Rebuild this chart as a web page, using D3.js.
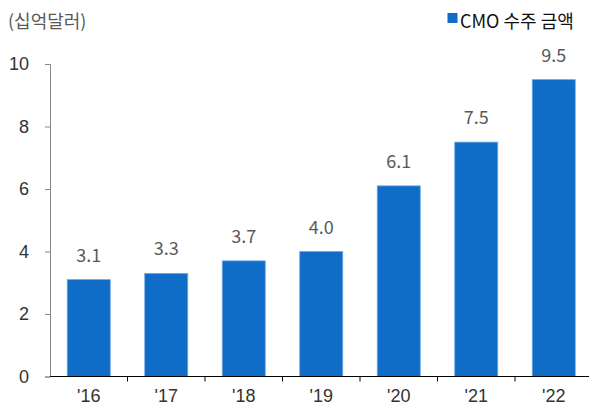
<!DOCTYPE html>
<html><head><meta charset="utf-8">
<script src="https://cdn.jsdelivr.net/npm/d3@7"></script>
<style>body{margin:0;background:#fff;} svg{display:block;font-family:"Noto Sans CJK KR","Noto Sans",sans-serif;}</style>
</head><body>
<svg id="c" width="590" height="408"></svg>
<script>
const categories = ["'16","'17","'18","'19","'20","'21","'22"];
const values = [3.1,3.3,3.7,4.0,6.1,7.5,9.5];
const yTicks = [0,2,4,6,8,10];
const unitLabel = "(십억달러)";
const seriesName = "CMO 수주 금액";

const svg = d3.select("#c");
const x = d3.scaleBand().domain(categories).range([50,592.5]).paddingInner(0.445).paddingOuter(0.2225);
const y = d3.scaleLinear().domain([0,10]).range([376.5,64]);

// y axis
const ya = svg.append("g").attr("transform","translate(50,0)")
  .call(d3.axisLeft(y).tickValues(yTicks).tickSize(5).tickPadding(16));
ya.select(".domain").attr("stroke","#888");
ya.selectAll(".tick line").attr("stroke","#888");
ya.selectAll("text").attr("font-size",18).attr("fill","#333").attr("font-family","inherit");

// bars
svg.selectAll(".bar").data(values).enter().append("rect")
  .attr("x",(d,i)=>x(categories[i]))
  .attr("width",x.bandwidth())
  .attr("y",d=>y(d))
  .attr("height",d=>y(0)-y(d))
  .attr("fill","#0F6DC8")
  .attr("stroke","#6FA8E0").attr("stroke-width",0.8);

// value labels
svg.selectAll(".vl").data(values).enter().append("text")
  .attr("x",(d,i)=>x(categories[i])+x.bandwidth()/2)
  .attr("y",d=>y(d)-18)
  .attr("text-anchor","middle").attr("font-size",18).attr("fill","#595959")
  .text(d=>d.toFixed(1));

// x axis
const xa = svg.append("g").attr("transform","translate(0,"+y(0)+")")
  .call(d3.axisBottom(x).tickSize(0).tickPadding(12.5));
xa.select(".domain").attr("stroke","#000").attr("d","M50,0H589");
xa.selectAll("text").attr("font-size",18).attr("fill","#333").attr("font-family","inherit");
// boundary ticks
const bounds = categories.slice(1).map(c=>x(c)-x.step()*x.paddingInner()/2);
xa.selectAll(".bt").data(bounds).enter().append("line")
  .attr("x1",d=>d).attr("x2",d=>d).attr("y1",0).attr("y2",5).attr("stroke","#000");

// unit label
svg.append("text").attr("x",8).attr("y",28).attr("font-size",18).attr("fill","#595959").text(unitLabel);

// legend
svg.append("rect").attr("x",447.5).attr("y",13).attr("width",10).attr("height",10).attr("fill","#0F6DC8");
svg.append("text").attr("x",460).attr("y",28).attr("font-size",18).attr("fill","#111").text(seriesName);
</script>
</body></html>
